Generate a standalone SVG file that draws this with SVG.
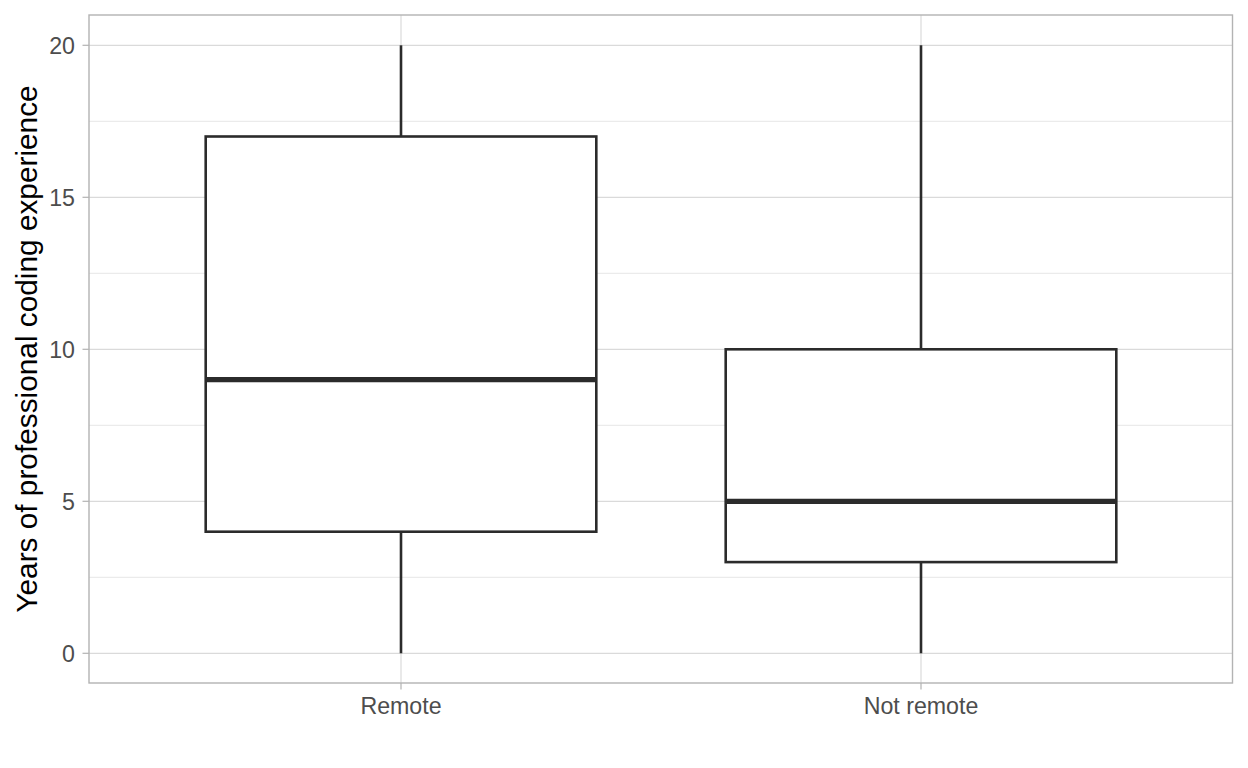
<svg xmlns="http://www.w3.org/2000/svg" width="1248" height="768" viewBox="0 0 1248 768">
<style>
.grid-major{stroke:#dadada;stroke-width:1.2;fill:none}
.grid-minor{stroke:#e6e6e6;stroke-width:1;fill:none}
.tick{stroke:#b3b3b3;stroke-width:1.2}
.box{fill:#ffffff;stroke:#2b2b2b;stroke-width:2.6}
.whisker{stroke:#2b2b2b;stroke-width:2.6}
.median{stroke:#2b2b2b;stroke-width:5.2}
.ylab{font-family:"Liberation Sans",Arial,sans-serif;font-size:23.2px;fill:#4d4d4d;text-anchor:end}
.xlab{font-family:"Liberation Sans",Arial,sans-serif;font-size:23.2px;fill:#4d4d4d;text-anchor:middle}
.title{font-family:"Liberation Sans",Arial,sans-serif;font-size:29.8px;fill:#000000;text-anchor:middle}
</style>
<rect x="0" y="0" width="1248" height="768" fill="#ffffff"/>
<g id="grid">
<line class="grid-minor" x1="89" y1="577.3" x2="1232.5" y2="577.3"/>
<line class="grid-minor" x1="89" y1="425.3" x2="1232.5" y2="425.3"/>
<line class="grid-minor" x1="89" y1="273.3" x2="1232.5" y2="273.3"/>
<line class="grid-minor" x1="89" y1="121.3" x2="1232.5" y2="121.3"/>
<line class="grid-major" x1="89" y1="653.3" x2="1232.5" y2="653.3"/>
<line class="grid-major" x1="89" y1="501.3" x2="1232.5" y2="501.3"/>
<line class="grid-major" x1="89" y1="349.3" x2="1232.5" y2="349.3"/>
<line class="grid-major" x1="89" y1="197.3" x2="1232.5" y2="197.3"/>
<line class="grid-major" x1="89" y1="45.3" x2="1232.5" y2="45.3"/>
<line class="grid-major" x1="401" y1="15" x2="401" y2="683"/>
<line class="grid-major" x1="921" y1="15" x2="921" y2="683"/>
</g>
<g id="connectors">
<line class="whisker" x1="401" y1="45.3" x2="401" y2="136.5"/>
<line class="whisker" x1="401" y1="531.7" x2="401" y2="653.3"/>
<line class="whisker" x1="921" y1="45.3" x2="921" y2="349.3"/>
<line class="whisker" x1="921" y1="562.1" x2="921" y2="653.3"/>
</g>
<g id="box-remote">
<rect class="box" x="205.7" y="136.5" width="390.6" height="395.2"/>
<line class="median" x1="205.7" y1="379.7" x2="596.3" y2="379.7"/>
</g>
<g id="box-not-remote">
<rect class="box" x="725.7" y="349.3" width="390.6" height="212.8"/>
<line class="median" x1="725.7" y1="501.3" x2="1116.3" y2="501.3"/>
</g>
<g id="panel-border">
<rect x="89" y="15" width="1143.5" height="668" fill="none" stroke="#b3b3b3" stroke-width="1.4"/>
</g>
<g id="axes">
<line class="tick" x1="82.5" y1="653.3" x2="89" y2="653.3"/>
<line class="tick" x1="82.5" y1="501.3" x2="89" y2="501.3"/>
<line class="tick" x1="82.5" y1="349.3" x2="89" y2="349.3"/>
<line class="tick" x1="82.5" y1="197.3" x2="89" y2="197.3"/>
<line class="tick" x1="82.5" y1="45.3" x2="89" y2="45.3"/>
<line class="tick" x1="401" y1="683" x2="401" y2="689.5"/>
<line class="tick" x1="921" y1="683" x2="921" y2="689.5"/>
<text class="ylab" x="75" y="661.6">0</text>
<text class="ylab" x="75" y="509.6">5</text>
<text class="ylab" x="75" y="357.6">10</text>
<text class="ylab" x="75" y="205.6">15</text>
<text class="ylab" x="75" y="53.6">20</text>
<text class="xlab" x="401" y="713.8">Remote</text>
<text class="xlab" x="921" y="713.8">Not remote</text>
<text class="title" transform="translate(36.5,349) rotate(-90)">Years of professional coding experience</text>
</g>
</svg>
